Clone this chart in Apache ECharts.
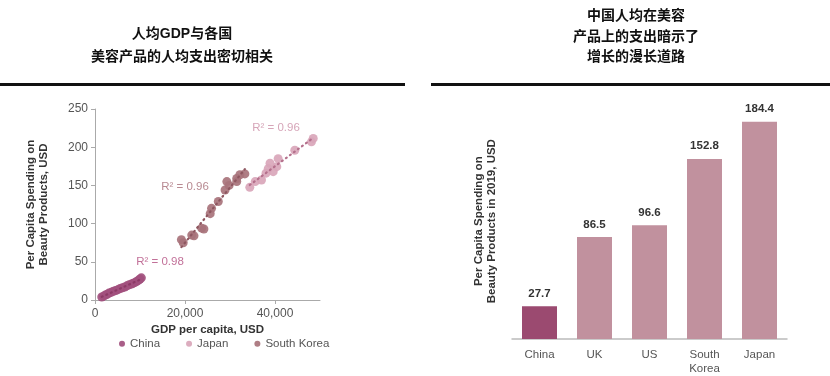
<!DOCTYPE html>
<html>
<head>
<meta charset="utf-8">
<script src="https://cdn.jsdelivr.net/npm/echarts@6/dist/echarts.min.js"></script>
<style>
  html, body { margin: 0; padding: 0; background: #fff; }
  #chart { width: 830px; height: 376px; }
</style>
</head>
<body>
<div id="chart"></div>
<script>
const FONT = '"Liberation Sans", Arial, "Noto Sans CJK SC", sans-serif'

// left panel: GDP per capita vs spending
const chinaGdp = [1500, 1900, 2300, 2700, 3100, 3600, 4100, 4600, 5100, 5600, 6100, 6600, 7100, 7600, 8100, 8500, 8900, 9300, 9700, 10000, 10300]
const chinaSpend = [4, 5, 6.5, 7.5, 9, 10, 11.5, 12.5, 13.5, 15, 16, 17, 18.5, 20, 21, 22, 23, 24.5, 26, 27.5, 29]
const koreaGdp = [19200, 19600, 21500, 22000, 23700, 24200, 25600, 25900, 27400, 28900, 29300, 29800, 31500, 31500, 32200, 33300]
const koreaSpend = [79, 75, 85, 84, 94, 93, 113, 120, 129, 144, 155, 150, 155, 159, 164, 165]
const japanGdp = [34400, 35600, 37000, 38000, 38500, 38900, 39600, 40400, 40700, 44400, 48100, 48500]
const japanSpend = [147.5, 155, 157, 166, 172, 179, 168, 174.5, 185, 196, 207, 211.5]
const r2Labels = ['R² = 0.98', 'R² = 0.96', 'R² = 0.96']

// right panel: spending in 2019
const countries = ['China', 'UK', 'US', 'South\nKorea', 'Japan']
const spend2019 = [27.7, 86.5, 96.6, 152.8, 184.4]

const C_CHINA = '#a2507e'
const C_KOREA = '#a8737b'
const C_JAPAN = '#d9a6ba'

function pairs (xs, ys) {
  return xs.map((x, i) => [x, ys[i]])
}

// least squares line over the data range
function trend (xs, ys) {
  const n = xs.length
  const mx = xs.reduce((a, b) => a + b, 0) / n
  const my = ys.reduce((a, b) => a + b, 0) / n
  let sxy = 0, sxx = 0
  for (let i = 0; i < n; i++) {
    sxy += (xs[i] - mx) * (ys[i] - my)
    sxx += (xs[i] - mx) * (xs[i] - mx)
  }
  const b = sxy / sxx
  const a = my - b * mx
  const x0 = Math.min(...xs), x1 = Math.max(...xs)
  return [[x0, a + b * x0], [x1, a + b * x1]]
}

function trendSeries (xs, ys, color) {
  return {
    type: 'line',
    xAxisIndex: 0,
    yAxisIndex: 0,
    data: trend(xs, ys),
    symbol: 'none',
    silent: true,
    z: 3,
    lineStyle: { color: color, width: 2.2, type: [1, 4], cap: 'round' }
  }
}

function scatterSeries (name, xs, ys, color) {
  return {
    name: name,
    type: 'scatter',
    xAxisIndex: 0,
    yAxisIndex: 0,
    data: pairs(xs, ys),
    symbolSize: 9,
    z: 2,
    itemStyle: { color: color, opacity: 0.92 }
  }
}

const chart = echarts.init(document.getElementById('chart'))
chart.setOption({
  animation: false,
  textStyle: { fontFamily: FONT },
  legend: {
    data: ['China', 'Japan', 'South Korea'],
    icon: 'circle',
    itemWidth: 6,
    itemHeight: 6,
    itemGap: 26,
    left: 114,
    top: 333,
    textStyle: { color: '#555', fontSize: 11.5, fontFamily: FONT }
  },
  grid: [
    { left: 95, width: 225, top: 109, height: 191 },
    { left: 512, width: 275, top: 103.4, height: 235.6 }
  ],
  xAxis: [
    {
      gridIndex: 0,
      type: 'value',
      min: 0,
      max: 50000,
      interval: 10000,
      splitLine: { show: false },
      axisLine: { lineStyle: { color: '#aaa' } },
      axisTick: { customValues: [0, 20000, 40000], length: 4, lineStyle: { color: '#aaa' } },
      axisLabel: {
        customValues: [0, 20000, 40000],
        color: '#555',
        fontSize: 12,
        margin: 8,
        formatter: v => v.toLocaleString('en-US')
      }
    },
    {
      gridIndex: 1,
      type: 'category',
      data: countries,
      axisLine: { lineStyle: { color: '#bbb', width: 1.5 } },
      axisTick: { show: false },
      axisLabel: { color: '#555', fontSize: 11.5, margin: 9, lineHeight: 14 }
    }
  ],
  yAxis: [
    {
      gridIndex: 0,
      type: 'value',
      min: 0,
      max: 250,
      interval: 50,
      name: 'Per Capita Spending on\nBeauty Products, USD',
      nameLocation: 'middle',
      nameGap: 45,
      nameTextStyle: { color: '#333', fontSize: 11.5, fontWeight: 'bold', lineHeight: 13 },
      splitLine: { show: false },
      axisLine: { show: true, lineStyle: { color: '#aaa' } },
      axisTick: { show: true, length: 4, lineStyle: { color: '#aaa' } },
      axisLabel: { color: '#555', fontSize: 12, margin: 7 }
    },
    {
      gridIndex: 1,
      type: 'value',
      min: 0,
      max: 200,
      name: 'Per Capita Spending on\nBeauty Products in 2019, USD',
      nameLocation: 'middle',
      nameGap: 14,
      nameTextStyle: { color: '#333', fontSize: 11.5, fontWeight: 'bold', lineHeight: 13 },
      splitLine: { show: false },
      axisLine: { show: false },
      axisTick: { show: false },
      axisLabel: { show: false }
    }
  ],
  series: [
    scatterSeries('China', chinaGdp, chinaSpend, C_CHINA),
    scatterSeries('Japan', japanGdp, japanSpend, C_JAPAN),
    scatterSeries('South Korea', koreaGdp, koreaSpend, C_KOREA),
    trendSeries(chinaGdp, chinaSpend, '#8c3a66'),
    trendSeries(koreaGdp, koreaSpend, '#8e5760'),
    trendSeries(japanGdp, japanSpend, '#b4708c'),
    {
      type: 'bar',
      xAxisIndex: 1,
      yAxisIndex: 1,
      barWidth: 35,
      data: spend2019.map((v, i) => ({
        value: v,
        itemStyle: { color: i === 0 ? '#9b4a70' : '#c1919e' }
      })),
      label: {
        show: true,
        position: 'top',
        distance: 7,
        color: '#333',
        fontSize: 11.5,
        fontWeight: 'bold',
        formatter: p => p.value.toFixed(1)
      }
    }
  ],
  graphic: [
    {
      type: 'text',
      style: {
        x: 182, y: 46, text: '人均GDP与各国\n美容产品的人均支出密切相关',
        textAlign: 'center', textVerticalAlign: 'middle', lineHeight: 23,
        font: 'bold 14px ' + FONT, fill: '#111'
      }
    },
    {
      type: 'text',
      style: {
        x: 636, y: 37, text: '中国人均在美容\n产品上的支出暗示了\n增长的漫长道路',
        textAlign: 'center', textVerticalAlign: 'middle', lineHeight: 20.5,
        font: 'bold 14px ' + FONT, fill: '#111'
      }
    },
    { type: 'rect', shape: { x: 0, y: 83, width: 405, height: 3 }, style: { fill: '#111' } },
    { type: 'rect', shape: { x: 431, y: 83, width: 399, height: 3 }, style: { fill: '#111' } },
    {
      type: 'text',
      style: {
        x: 207.5, y: 330, text: 'GDP per capita, USD', textAlign: 'center', textVerticalAlign: 'middle',
        font: 'bold 11.5px ' + FONT, fill: '#333'
      }
    },
    {
      type: 'text',
      style: { x: 160, y: 262, text: r2Labels[0], textAlign: 'center', textVerticalAlign: 'middle', font: '11.5px ' + FONT, fill: '#c27199' }
    },
    {
      type: 'text',
      style: { x: 185, y: 187, text: r2Labels[1], textAlign: 'center', textVerticalAlign: 'middle', font: '11.5px ' + FONT, fill: '#b88a92' }
    },
    {
      type: 'text',
      style: { x: 276, y: 128, text: r2Labels[2], textAlign: 'center', textVerticalAlign: 'middle', font: '11.5px ' + FONT, fill: '#d6a5b8' }
    }
  ]
})
</script>
</body>
</html>
